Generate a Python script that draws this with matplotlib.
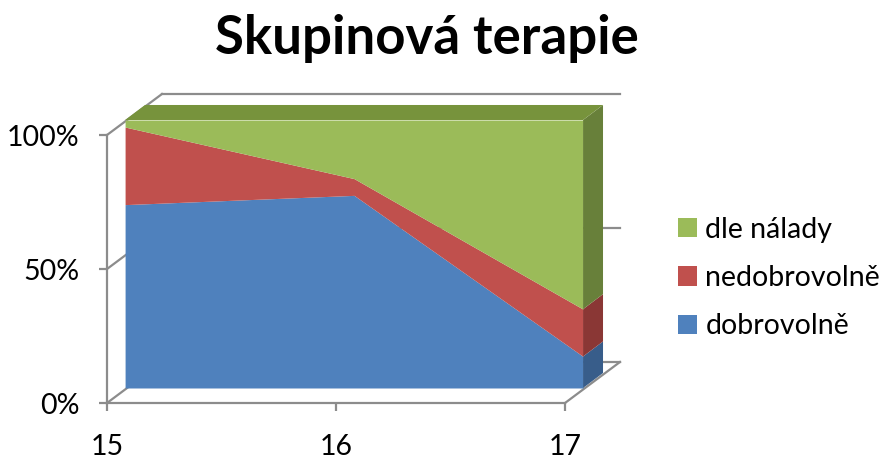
import matplotlib as mpl
mpl.use('Agg')
import matplotlib.pyplot as plt
from matplotlib.patches import Patch, Polygon
import numpy as np

years = [15, 16, 17]
dobrovolne = [26, 23, 2]
nedobrovolne = [11, 2, 3]
dle_nalady = [1, 7, 12]
series_names = ['dobrovolně', 'nedobrovolně', 'dle nálady']
y_ticks = [0, 0.5, 1]
y_labels = ['0%', '50%', '100%']

front_colors = ['#4F81BD', '#C0504D', '#9BBB59']
side_colors = ['#385D8A', '#8A3735', '#68803A']
top_color = '#77933C'
grid_color = '#8C8C8C'

plt.rcParams['font.family'] = ['Lato', 'DejaVu Sans']

# depth offsets (x in category units, y in fraction of 100%)
slab_front = (0.079, 0.056)
slab_back = (0.166, 0.112)
wall = (0.24, 0.153)

x = np.array(years, dtype=float)
counts = np.array([dobrovolne, nedobrovolne, dle_nalady], dtype=float)
shares = counts / counts.sum(axis=0)
upper = np.cumsum(shares, axis=0)
lower = upper - shares

fig = plt.figure(figsize=(8.85, 4.63), dpi=100)
ax = fig.add_axes([107 / 885, 60 / 463, 458 / 885, 268 / 463])
ax.set_xlim(x[0], x[-1])
ax.set_ylim(0, 1)

# back wall + left wall + floor edge
for yt in y_ticks:
    ax.plot([x[0] + wall[0], x[-1] + wall[0]], [yt + wall[1], yt + wall[1]],
            color=grid_color, lw=1.6, clip_on=False, zorder=1)
    ax.plot([x[0], x[0] + wall[0]], [yt, yt + wall[1]],
            color=grid_color, lw=1.6, clip_on=False, zorder=1)
ax.plot([x[-1], x[-1] + wall[0]], [0, wall[1]], color=grid_color, lw=1.6,
        clip_on=False, zorder=1)

# front faces of the stacked areas
for i in range(3):
    ax.fill_between(x + slab_front[0], lower[i] + slab_front[1], upper[i] + slab_front[1],
                    color=front_colors[i], lw=0, clip_on=False, zorder=2)
    # right side face
    side = [(x[-1] + slab_front[0], lower[i][-1] + slab_front[1]),
            (x[-1] + slab_back[0], lower[i][-1] + slab_back[1]),
            (x[-1] + slab_back[0], upper[i][-1] + slab_back[1]),
            (x[-1] + slab_front[0], upper[i][-1] + slab_front[1])]
    ax.add_patch(Polygon(side, closed=True, color=side_colors[i], lw=0,
                         clip_on=False, zorder=2))

# top face
top = [(x[0] + slab_front[0], 1 + slab_front[1]), (x[-1] + slab_front[0], 1 + slab_front[1]),
       (x[-1] + slab_back[0], 1 + slab_back[1]), (x[0] + slab_back[0], 1 + slab_back[1])]
ax.add_patch(Polygon(top, closed=True, color=top_color, lw=0, clip_on=False, zorder=2))

for s in ['top', 'right']:
    ax.spines[s].set_visible(False)
for s in ['left', 'bottom']:
    ax.spines[s].set_color(grid_color)
    ax.spines[s].set_linewidth(1.6)
    ax.spines[s].set_zorder(3)
ax.set_facecolor('none')

ax.set_xticks(years)
ax.set_xticklabels([str(v) for v in years])
ax.set_yticks(y_ticks)
ax.set_yticklabels(y_labels)
ax.tick_params(axis='y', length=6, width=1.6, color=grid_color, pad=14, labelsize=20.5)
ax.tick_params(axis='x', length=6, width=1.6, color=grid_color, pad=16, labelsize=20.5)

fig.text(427 / 885, 1 - 54 / 463, 'Skupinová terapie', ha='center', va='baseline',
         fontsize=38, fontweight='bold')

handles = [Patch(facecolor=front_colors[i], edgecolor='none') for i in [2, 1, 0]]
labels = [series_names[i] for i in [2, 1, 0]]
fig.legend(handles, labels, loc='center left', bbox_to_anchor=(678 / 885, 185 / 463),
           frameon=False, fontsize=20.5, handlelength=0.66, handleheight=0.66,
           handletextpad=0.3, labelspacing=0.78, borderpad=0, borderaxespad=0)

plt.savefig('out.png', dpi=100)
